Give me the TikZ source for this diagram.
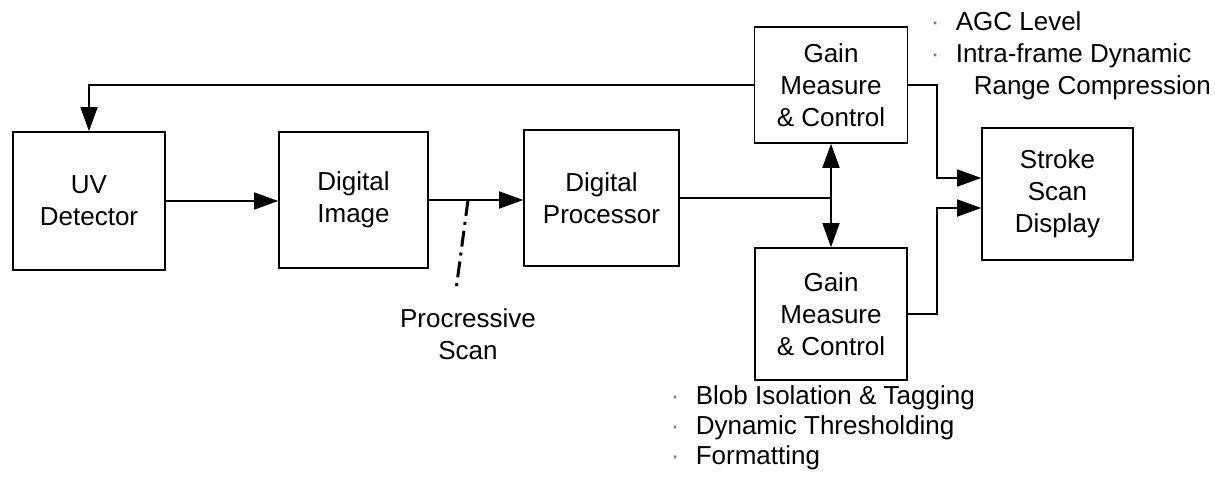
\documentclass[tikz,border=0pt]{standalone}
\usepackage{fontspec}
\setmainfont{Liberation Sans}
\usetikzlibrary{arrows.meta}

\begin{document}
\begin{tikzpicture}[x=1pt, y=-1pt, line width=1.6pt, >={Triangle[length=24pt,width=17pt]},
        every node/.append style={font=\fontsize{26}{32}\selectfont}]
      \tikzstyle{block} = [draw, rectangle, align=center, inner sep=0pt]
      \tikzstyle{notes} = [align=left, anchor=west, inner sep=0pt]
      \tikzstyle{scanline} = [line width=3pt, dash pattern=on 16pt off 6pt on 3pt off 6pt]
      \newcommand{\dotitem}{\makebox[25pt][l]{\color{gray}·}}
      \useasboundingbox (0,0) rectangle (1215,484);
      \node (uv) [block, minimum width=152pt, minimum height=138pt] at (89,201) {UV\\Detector};
      \node (image) [block, minimum width=149pt, minimum height=136pt] at (353.5,200) {Digital\\Image};
      \node (proc) [block, minimum width=155pt, minimum height=136pt] at (601.5,198) {Digital\\Processor};
      \node (gainup) [block, minimum width=153pt, minimum height=116pt] at (831,85) {Gain\\Measure\\\& Control};
      \node (gainlo) [block, minimum width=152pt, minimum height=132pt] at (831,314) {Gain\\Measure\\\& Control};
      \node (stroke) [block, minimum width=151pt, minimum height=132pt] at (1057.5,194) {Stroke\\Scan\\Display};
      \coordinate (bend) at (937,0);
      \coordinate (upin) at ([yshift=16pt]stroke.west);
      \coordinate (loin) at ([yshift=-14pt]stroke.west);
      \coordinate (tap) at (468,200);
      \coordinate (tapend) at (456,290);
      \draw[->] (uv.east) -- (uv.east -| image.west);
      \draw[->] (image.east |- tap) -- (tap -| proc.west);
      \draw[scanline] (tap) -- (tapend);
      \draw (proc.east) -- (proc.east -| gainup.south);
      \draw[<->] (gainup.south) -- (gainlo.north);
      \draw[->] (gainup.west) -| (uv.north);
      \draw[->] (gainup.east) -| (bend |- upin) -- (upin);
      \draw[->] (gainlo.east) -| (bend |- loin) -- (loin);
      \node (scanlabel) [align=center] at (468,334) {Procressive\\Scan};
      \node (toplist) [notes] at (930,56) {\dotitem AGC Level\\\dotitem Intra-frame Dynamic\\\hspace*{43pt}Range Compression};
      \node (botlist) [notes, font=\fontsize{26}{30}\selectfont] at (670,428) {\dotitem Blob Isolation \& Tagging\\\dotitem Dynamic Thresholding\\\dotitem Formatting};
    \end{tikzpicture}
\end{document}
